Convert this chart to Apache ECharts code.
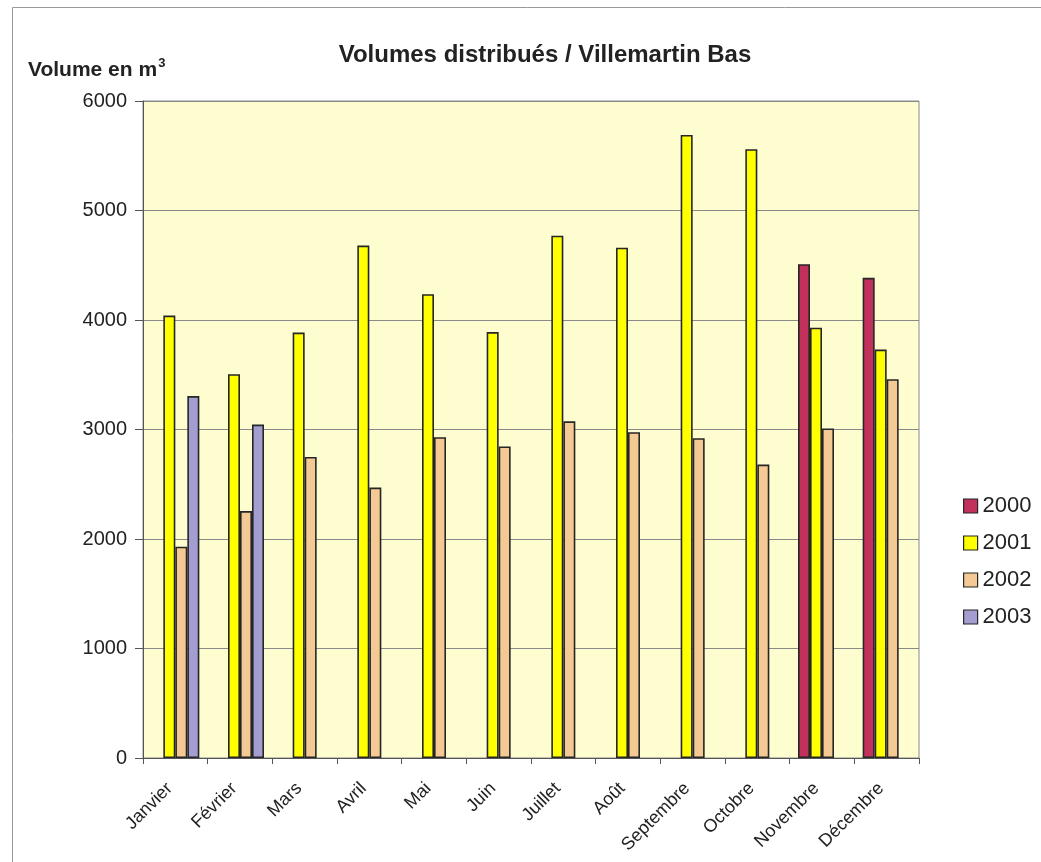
<!DOCTYPE html>
<html>
<head>
<meta charset="utf-8">
<script src="https://cdn.jsdelivr.net/npm/echarts@6/dist/echarts.min.js"></script>
<style>html,body{margin:0;padding:0;background:#fff;}#c{width:1041px;height:862px;}</style>
</head>
<body>
<div id="c"></div>
<script>
const months = ['Janvier','Février','Mars','Avril','Mai','Juin','Juillet','Août','Septembre','Octobre','Novembre','Décembre'];
const v2000 = [null,null,null,null,null,null,null,null,null,null,4510,4385];
const v2001 = [4040,3505,3885,4680,4235,3890,4770,4660,5690,5560,3930,3730];
const v2002 = [1930,2255,2750,2470,2930,2845,3075,2975,2920,2680,3010,3460];
const v2003 = [3305,3045,null,null,null,null,null,null,null,null,null,null];
const yTicks = [0,1000,2000,3000,4000,5000,6000];

const chart = echarts.init(document.getElementById('c'));
const font = 'Liberation Sans, Arial, sans-serif';
const barStyle = c => ({color: c, borderColor: '#262626', borderWidth: 1.6});
function mk(name, data, color) {
  return {name, type: 'bar', data, barWidth: 12, barGap: '0%', itemStyle: barStyle(color)};
}
chart.setOption({
  animation: false,
  backgroundColor: '#ffffff',
  title: {
    text: 'Volumes distribués / Villemartin Bas',
    left: 540, top: 38, textAlign: 'center',
    textStyle: {fontFamily: font, fontSize: 24, fontWeight: 'bold', color: '#222'}
  },
  graphic: [{
    type: 'rect', shape: {x: 12.5, y: 7.5, width: 1040, height: 860},
    style: {fill: 'none', stroke: '#999', lineWidth: 1}
  }, {
    type: 'text', left: 28, top: 57,
    style: {
      text: '{b|Volume en m}{s|3}',
      rich: {
        b: {fontFamily: font, fontSize: 21, fontWeight: 'bold', fill: '#222', verticalAlign: 'bottom'},
        s: {fontFamily: font, fontSize: 13, fontWeight: 'bold', fill: '#222', verticalAlign: 'top', padding: [0,0,11,1]}
      }
    }
  }],
  legend: {
    orient: 'vertical', left: 958, top: 490, itemGap: 15,
    itemWidth: 14, itemHeight: 14, icon: 'rect',
    itemStyle: {borderColor: '#262626', borderWidth: 1.2},
    textStyle: {fontFamily: font, fontSize: 22, lineHeight: 22, color: '#222'},
    data: ['2000','2001','2002','2003']
  },
  grid: {
    left: 143, right: 122, top: 101, bottom: 104,
    show: true, backgroundColor: '#FDFDD0', borderColor: '#8a8a8a', borderWidth: 1
  },
  xAxis: {
    type: 'category', data: months,
    axisLine: {lineStyle: {color: '#555', width: 1}},
    axisTick: {show: true, alignWithLabel: false, length: 6, lineStyle: {color: '#555'}},
    axisLabel: {rotate: 45, interval: 0, fontFamily: font, fontSize: 18, color: '#222', margin: 22, padding: [0, 8, 0, 0]}
  },
  yAxis: {
    type: 'value', min: yTicks[0], max: yTicks[yTicks.length - 1], interval: 1000,
    axisLine: {show: true, lineStyle: {color: '#555'}},
    axisTick: {show: true, length: 8, lineStyle: {color: '#555'}},
    axisLabel: {fontFamily: font, fontSize: 20, color: '#222', margin: 16, formatter: v => String(v)},
    splitLine: {lineStyle: {color: '#8a8a8a', width: 1}}
  },
  series: [
    mk('2000', v2000, '#C2305C'),
    mk('2001', v2001, '#FFFF00'),
    mk('2002', v2002, '#F5C993'),
    mk('2003', v2003, '#A49DD0')
  ]
});
</script>
</body>
</html>
